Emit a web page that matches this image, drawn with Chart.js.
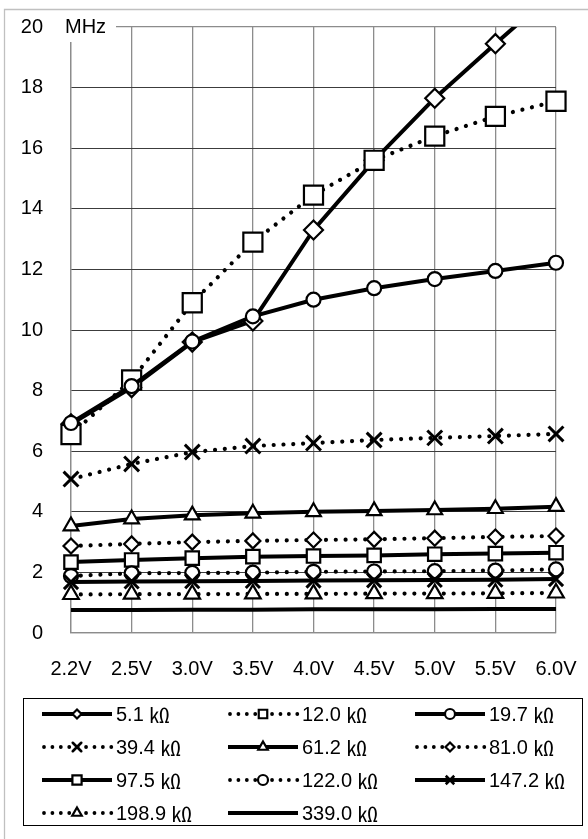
<!DOCTYPE html>
<html><head><meta charset="utf-8">
<script src="https://cdn.jsdelivr.net/npm/chart.js@4"></script>
<style>html,body{margin:0;padding:0;background:#fff;}canvas{display:block}</style>
</head><body>
<canvas id="c" width="588" height="839"></canvas>
<script>
const voltages = ['2.2V','2.5V','3.0V','3.5V','4.0V','4.5V','5.0V','5.5V','6.0V'];
const yTicks = [0,2,4,6,8,10,12,14,16,18,20];
const unitLabel = 'MHz';
const seriesNames = ['5.1 ㏀','12.0 ㏀','19.7 ㏀','39.4 ㏀','61.2 ㏀','81.0 ㏀','97.5 ㏀','122.0 ㏀','147.2 ㏀','198.9 ㏀','339.0 ㏀'];
const r5_1   = [6.9, 8.1, 9.6, 10.3, 13.3, 15.6, 17.65, 19.45, 21.2];
const r12_0  = [6.55, 8.35, 10.9, 12.9, 14.45, 15.6, 16.4, 17.05, 17.55];
const r19_7  = [6.93, 8.15, 9.62, 10.45, 11.0, 11.38, 11.68, 11.95, 12.22];
const r39_4  = [5.08, 5.58, 5.97, 6.17, 6.27, 6.37, 6.44, 6.5, 6.57];
const r61_2  = [3.53, 3.76, 3.89, 3.95, 4.0, 4.03, 4.06, 4.1, 4.17];
const r81_0  = [2.87, 2.94, 3.0, 3.04, 3.07, 3.09, 3.13, 3.17, 3.2];
const r97_5  = [2.34, 2.41, 2.47, 2.52, 2.54, 2.56, 2.6, 2.62, 2.65];
const r122_0 = [1.88, 1.97, 1.98, 1.99, 2.02, 2.03, 2.04, 2.06, 2.1];
const r147_2 = [1.68, 1.7, 1.71, 1.72, 1.73, 1.74, 1.75, 1.76, 1.78];
const r198_9 = [1.27, 1.28, 1.28, 1.29, 1.29, 1.3, 1.3, 1.31, 1.32];
const r339_0 = [0.76, 0.76, 0.77, 0.77, 0.78, 0.78, 0.78, 0.79, 0.79];
const seriesData = [r5_1, r12_0, r19_7, r39_4, r61_2, r81_0, r97_5, r122_0, r147_2, r198_9, r339_0];

// styles (kept separate from data)
const dotted = [false,true,false,true,false,true,false,true,false,true,false];
const markers = ['rectRot','rect','circle','crossRot','triangle','rectRot','rect','circle','crossRot','triangle',false];
const markerR = [9.5,13.5,7,10.5,8.5,7.5,9.5,7,10,9,0];
const legendR = [4.5,6,5,6,5.5,4.5,6.5,5,6,5.5,0];
const FONT = '"Liberation Sans", Arial, sans-serif';
const CJK = '"Noto Sans CJK JP", sans-serif';
const DOT = [0.01, 9.8];
const AREA = { left: 71, top: 27, right: 556, bottom: 633 };

const datasets = seriesData.map((d, i) => ({
  label: seriesNames[i],
  data: d,
  borderColor: '#000',
  backgroundColor: '#fff',
  borderWidth: dotted[i] ? 4.2 : 4,
  borderDash: dotted[i] ? DOT : [],
  borderCapStyle: dotted[i] ? 'round' : 'butt',
  borderJoinStyle: 'round',
  tension: 0,
  pointStyle: markers[i] || 'circle',
  pointRadius: markers[i] ? markerR[i] : 0,
  pointBorderColor: '#000',
  pointBackgroundColor: '#fff',
  pointBorderWidth: markers[i] === 'crossRot' ? 3 : 2.2,
  order: seriesData.length - i,
  clip: {left: 30, right: 30, top: 0, bottom: 30}
}));

const fixArea = {
  id: 'fixArea',
  afterLayout(chart) {
    const H = chart.height;
    const ca = chart.chartArea;
    ca.left = AREA.left; ca.top = AREA.top; ca.right = AREA.right; ca.bottom = AREA.bottom;
    ca.width = AREA.right - AREA.left; ca.height = AREA.bottom - AREA.top;
    const x = chart.scales.x, y = chart.scales.y;
    x.left = AREA.left; x.right = AREA.right; x.width = ca.width;
    x.top = AREA.bottom; x.bottom = H; x.height = H - AREA.bottom;
    y.left = 0; y.right = AREA.left; y.width = AREA.left;
    y.top = AREA.top; y.bottom = AREA.bottom; y.height = ca.height;
    x.configure(); y.configure();
  }
};

const decor = {
  id: 'decor',
  beforeDraw(chart) {
    const ctx = chart.ctx;
    ctx.save();
    ctx.fillStyle = '#fff';
    ctx.fillRect(0, 0, chart.width, chart.height);
    ctx.strokeStyle = '#c0c0c0';
    ctx.lineWidth = 1.3;
    ctx.beginPath();
    ctx.moveTo(4.5, chart.height);
    ctx.lineTo(4.5, 9.5);
    ctx.lineTo(chart.width, 9.5);
    ctx.stroke();
    ctx.restore();
  },
  afterDraw(chart) {
    const ctx = chart.ctx;
    const ca = chart.chartArea;
    ctx.save();
    // unit label with white box
    ctx.fillStyle = '#fff';
    ctx.fillRect(ca.left - 13, ca.top - 15, 58, 30);
    ctx.fillStyle = '#000';
    ctx.font = '20px ' + FONT;
    ctx.textBaseline = 'middle';
    ctx.textAlign = 'left';
    ctx.fillText(unitLabel, ca.left - 6, ca.top);
    // legend box
    ctx.strokeStyle = '#000';
    ctx.lineWidth = 1;
    ctx.strokeRect(23.5, 698.5, 559, 127);
    const colX = [42, 228, 415];
    const rowY = [714, 747, 780, 813];
    chart.data.datasets.forEach((ds, i) => {
      const x = colX[i % 3], y = rowY[Math.floor(i / 3)];
      ctx.save();
      ctx.strokeStyle = '#000';
      ctx.lineWidth = dotted[i] ? 3.8 : 3.8;
      ctx.lineCap = dotted[i] ? 'round' : 'butt';
      ctx.setLineDash(dotted[i] ? [0.01, 8.4] : []);
      ctx.beginPath();
      ctx.moveTo(x + (dotted[i] ? 2 : 0), y);
      ctx.lineTo(x + 70, y);
      ctx.stroke();
      ctx.setLineDash([]);
      if (markers[i]) {
        ctx.fillStyle = '#fff';
        ctx.strokeStyle = '#000';
        ctx.lineWidth = markers[i] === 'crossRot' ? 2.6 : 2.2;
        Chart.helpers.drawPoint(ctx, {pointStyle: markers[i], radius: legendR[i], rotation: 0, borderWidth: 2}, x + 35, y);
      }
      ctx.restore();
      const parts = ds.label.split(' ');
      ctx.fillStyle = '#000';
      ctx.textBaseline = 'middle';
      ctx.font = '20px ' + FONT;
      const num = parts[0] + ' ';
      ctx.fillText(num, x + 74, y + 1);
      const w = ctx.measureText(num).width;
      ctx.font = '20px ' + CJK;
      ctx.fillText(parts[1], x + 74 + w, y + 1);
    });
    ctx.restore();
  }
};

new Chart(document.getElementById('c'), {
  type: 'line',
  data: { labels: voltages, datasets },
  options: {
    responsive: false,
    animation: false,
    events: [],
    layout: { padding: { top: 14, right: 20, left: 0, bottom: 0 } },
    plugins: { legend: { display: false }, tooltip: { enabled: false } },
    scales: {
      x: {
        type: 'category',
        offset: false,
        afterFit: s => { s.height = 206; },
        grid: { color: '#8c8c8c', lineWidth: 1.3, drawTicks: false },
        border: { color: '#8c8c8c', width: 1.3 },
        ticks: { color: '#000', font: { size: 20, family: FONT }, padding: 24, maxRotation: 0, autoSkip: false }
      },
      y: {
        min: 0, max: 20,
        afterFit: s => { s.width = 71; },
        afterBuildTicks: s => { s.ticks = yTicks.map(v => ({ value: v })); },
        grid: {
          color: c => (c.tick && (c.tick.value === 0 || c.tick.value === 20)) ? '#8c8c8c' : '#3c3c3c',
          lineWidth: c => (c.tick && (c.tick.value === 0 || c.tick.value === 20)) ? 1.3 : 1,
          drawTicks: false
        },
        border: { color: '#8c8c8c', width: 1.3 },
        ticks: { color: '#000', font: { size: 20, family: FONT }, padding: 28 }
      }
    }
  },
  plugins: [fixArea, decor]
});
</script>
</body></html>
